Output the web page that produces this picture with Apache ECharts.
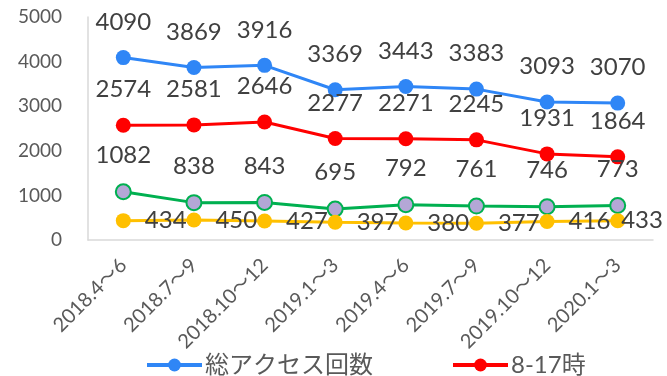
<!DOCTYPE html>
<html><head><meta charset="utf-8">
<script src="https://cdn.jsdelivr.net/npm/echarts@6/dist/echarts.min.js"></script>
<style>html,body{margin:0;padding:0;background:#fff}#c{width:667px;height:376px}</style>
</head><body><div id="c"></div>
<script>
const categories = ['2018.4～6','2018.7～9','2018.10～12','2019.1～3','2019.4～6','2019.7～9','2019.10～12','2020.1～3'];
const totalAccess = [4090,3869,3916,3369,3443,3383,3093,3070];
const daytime = [2574,2581,2646,2277,2271,2245,1931,1864];
const seriesGreen = [1082,838,843,695,792,761,746,773];
const seriesYellow = [434,450,427,397,380,377,416,433];
const yTicks = [0,1000,2000,3000,4000,5000];

const FONT = "Lato, 'Noto Sans CJK JP', sans-serif";
const chart = echarts.init(document.getElementById('c'));
const lbl = (pos, dist) => ({show:true, position:pos, distance:dist, fontSize:24, color:'#404040', fontFamily:FONT});
const yellowData = seriesYellow.map((v, i) => i === seriesYellow.length - 1
  ? {value:v, label:{distance:-4}} : v);
chart.setOption({
  animation:false,
  grid:{left:88, right:14, top:17, bottom:136},
  legend:{
    data:['総アクセス回数','8-17時'],
    left:140, top:348, itemWidth:55, itemHeight:16, itemGap:78,
    lineStyle:{width:4},
    textStyle:{fontSize:24, color:'#595959', fontFamily:FONT, padding:[0,0,0,-2]}
  },
  xAxis:{
    type:'category', data:categories, boundaryGap:true,
    axisLine:{lineStyle:{color:'#d9d9d9', width:1.5}},
    axisTick:{show:false},
    axisLabel:{rotate:45, fontSize:20, color:'#595959', fontFamily:FONT, margin:22, interval:0}
  },
  yAxis:{
    type:'value', min:yTicks[0], max:yTicks[yTicks.length-1], interval:1000,
    axisLine:{show:true, lineStyle:{color:'#d9d9d9', width:1.5}},
    axisTick:{show:false},
    splitLine:{show:false},
    axisLabel:{fontSize:19, color:'#595959', fontFamily:FONT, margin:26, formatter:v => String(v)}
  },
  series:[
    {name:'総アクセス回数', type:'line', data:totalAccess, symbol:'circle', symbolSize:15,
     itemStyle:{color:'#2f86f6'}, lineStyle:{color:'#2f86f6', width:3}, label:lbl('top',16)},
    {name:'8-17時', type:'line', data:daytime, symbol:'circle', symbolSize:15,
     itemStyle:{color:'#ff0000'}, lineStyle:{color:'#ff0000', width:3}, label:lbl('top',16)},
    {name:'series3', type:'line', data:seriesGreen, symbol:'circle', symbolSize:15,
     itemStyle:{color:'#b4a7d6', borderColor:'#00b050', borderWidth:2}, lineStyle:{color:'#00b050', width:3}, label:lbl('top',16)},
    {name:'series4', type:'line', data:yellowData, symbol:'circle', symbolSize:15,
     itemStyle:{color:'#ffc000'}, lineStyle:{color:'#ffc000', width:3}, label:lbl('right',14)}
  ]
});
</script></body></html>
